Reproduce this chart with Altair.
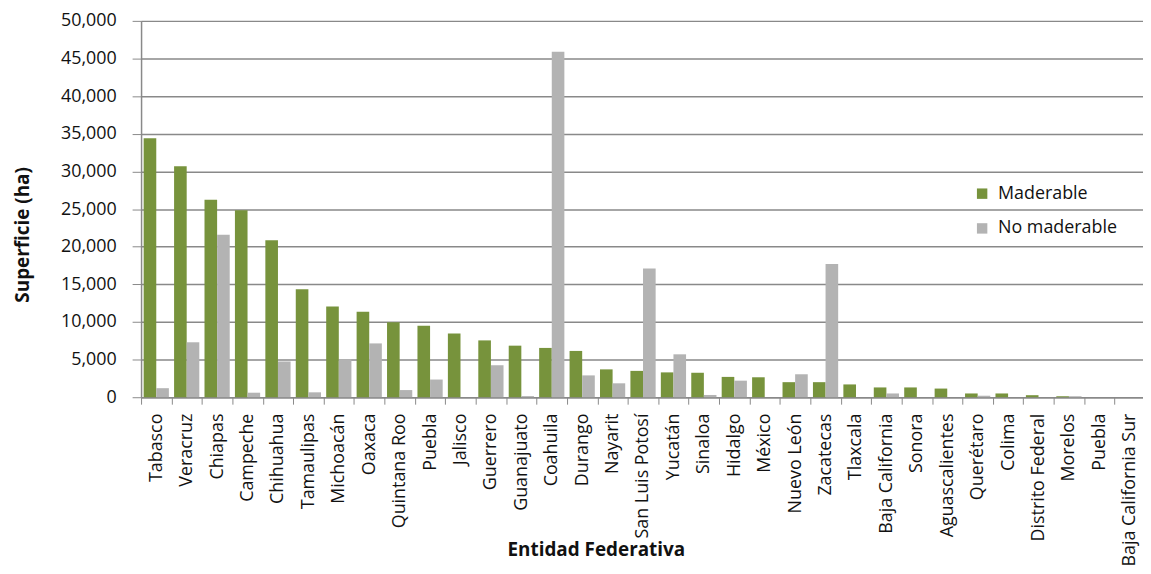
import json
import altair as alt
import pandas as pd

estados = ["Tabasco", "Veracruz", "Chiapas", "Campeche", "Chihuahua", "Tamaulipas",
           "Michoacán", "Oaxaca", "Quintana Roo", "Puebla", "Jalisco", "Guerrero",
           "Guanajuato", "Coahuila", "Durango", "Nayarit", "San Luis Potosí", "Yucatán",
           "Sinaloa", "Hidalgo", "México", "Nuevo León", "Zacatecas", "Tlaxcala",
           "Baja California", "Sonora", "Aguascalientes", "Querétaro", "Colima",
           "Distrito Federal", "Morelos", "Puebla", "Baja California Sur"]

maderable = [34400, 30700, 26250, 24850, 20850, 14350, 12050, 11350, 9950, 9500,
             8450, 7550, 6850, 6550, 6150, 3700, 3500, 3300, 3250, 2700, 2650,
             2000, 2000, 1700, 1300, 1300, 1150, 500, 500, 270, 130, 0, 0]

no_maderable = [1200, 7300, 21600, 600, 4750, 650, 5050, 7150, 950, 2350, 0, 4250,
                150, 45900, 2900, 1850, 17100, 5700, 300, 2200, 0, 3050, 17700, 0,
                500, 0, 0, 200, 0, 0, 130, 0, 0]

series = ["Maderable", "No maderable"]
colors = ["#77933C", "#B3B3B3"]
y_ticks = list(range(0, 50001, 5000))

rows = []
for i, name in enumerate(estados):
    rows.append({"idx": i, "estado": name, "serie": series[0], "valor": maderable[i]})
    rows.append({"idx": i, "estado": name, "serie": series[1], "valor": no_maderable[i]})
df = pd.DataFrame(rows)

label_expr = json.dumps(estados, ensure_ascii=False) + "[datum.value]"

FONT = "Open Sans"
GRID = "#898989"

chart = alt.Chart(df).mark_bar().encode(
    x=alt.X("idx:O",
            sort="ascending",
            scale=alt.Scale(range=[0, 1011], paddingInner=0, paddingOuter=0),
            axis=alt.Axis(title="Entidad Federativa",
                          labelExpr=label_expr,
                          labelAngle=-90,
                          labelFontSize=18,
                          labelFont=FONT,
                          labelColor="#111111",
                          labelPadding=9,
                          tickBand="extent",
                          tickSize=7,
                          tickColor=GRID,
                          domainColor=GRID,
                          domainWidth=1.5,
                          titleFont=FONT,
                          titleFontSize=19,
                          titleFontWeight="bold",
                          titleColor="#111111",
                          titleX=458,
                          titleY=159,
                          titleAlign="center",
                          titleBaseline="alphabetic")),
    xOffset=alt.XOffset("serie:N",
                        sort=series,
                        scale=alt.Scale(paddingOuter=0.206, paddingInner=0)),
    y=alt.Y("valor:Q",
            scale=alt.Scale(domain=[0, 50000], nice=False),
            axis=alt.Axis(title="Superficie (ha)",
                          values=y_ticks,
                          format=",d",
                          labelFontSize=18,
                          labelFont=FONT,
                          labelColor="#111111",
                          labelPadding=16,
                          tickSize=9,
                          tickColor=GRID,
                          domainColor=GRID,
                          domainWidth=1.5,
                          grid=True,
                          gridColor=GRID,
                          gridWidth=1.5,
                          titleFont=FONT,
                          titleFontSize=19,
                          titleFontWeight="bold",
                          titleColor="#111111",
                          titleX=-113,
                          titleY=215,
                          titleAlign="center",
                          titleBaseline="alphabetic")),
    color=alt.Color("serie:N",
                    scale=alt.Scale(domain=series, range=colors),
                    legend=alt.Legend(title=None,
                                      orient="none",
                                      legendX=838,
                                      legendY=165,
                                      symbolType="square",
                                      symbolSize=110,
                                      symbolStrokeWidth=0,
                                      labelFont=FONT,
                                      labelFontSize=18,
                                      labelColor="#111111",
                                      labelOffset=7,
                                      rowPadding=17,
                                      padding=0)),
).properties(
    width=1009,
    height=379,
    autosize=alt.AutoSizeParams(type="none"),
    padding={"left": 134, "top": 11, "right": 0, "bottom": 168},
).configure_view(
    stroke=None
)

chart.save("out.html", embed_options={"renderer": "svg", "actions": False})
